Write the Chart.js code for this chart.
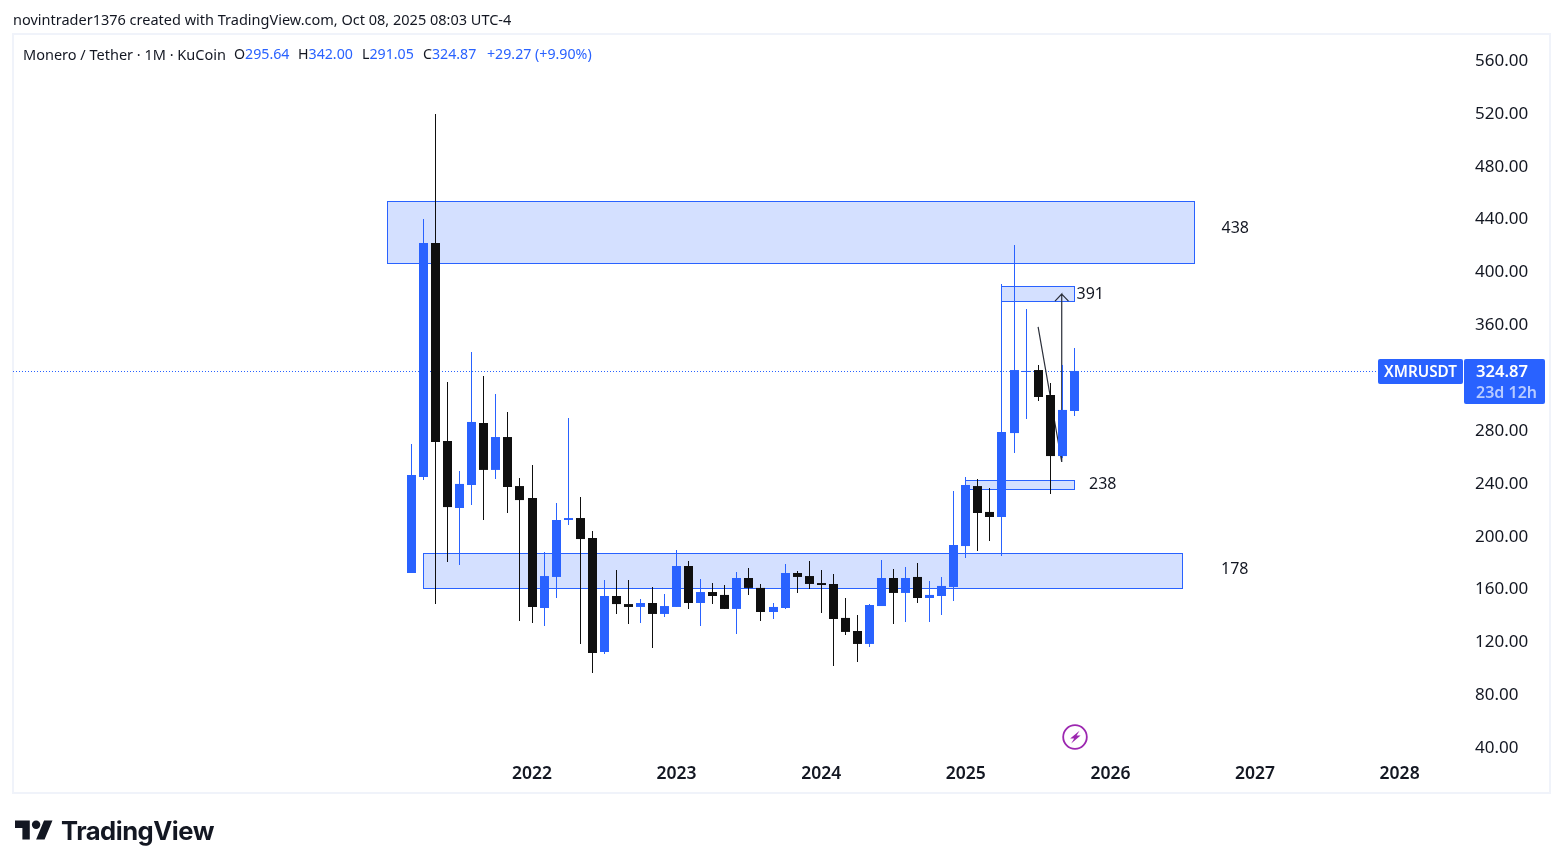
<!DOCTYPE html>
<html>
<head>
<meta charset="utf-8">
<title>XMRUSDT</title>
<script src="https://cdn.jsdelivr.net/npm/chart.js@4"></script>
<style>
  html, body { margin: 0; padding: 0; background: #fff; }
  body { width: 1563px; height: 868px; position: relative; overflow: hidden; font-family: "Noto Sans", sans-serif; color: #131722; }
  canvas { position: absolute; left: 0; top: 0; }
  .frame { position: absolute; left: 12px; top: 33px; width: 1535px; height: 757px; border: 2px solid #f0f3fa; }
  .txt { position: absolute; font-size: 14.5px; line-height: 20px; white-space: nowrap; }
  .val { font-size: 14.2px; }
  .blue { color: #2962ff; }
  .brand { position: absolute; left: 61px; top: 812px; font-size: 25.6px; line-height: 38px; font-weight: 700; letter-spacing: -0.5px; font-family: Inter, sans-serif; }
</style>
</head>
<body>
<div class="frame"></div>
<canvas id="chart" width="1563" height="868"></canvas>

<div class="txt" style="left:13px;top:9px">novintrader1376 created with TradingView.com, Oct 08, 2025 08:03 UTC-4</div>
<div class="txt" style="left:23px;top:44px">Monero / Tether · 1M · KuCoin</div>
<div class="txt val" style="left:234px;top:44px">O<span class="blue">295.64</span></div>
<div class="txt val" style="left:298px;top:44px">H<span class="blue">342.00</span></div>
<div class="txt val" style="left:362px;top:44px">L<span class="blue">291.05</span></div>
<div class="txt val" style="left:423px;top:44px">C<span class="blue">324.87</span></div>
<div class="txt val blue" style="left:487px;top:44px">+29.27 (+9.90%)</div>

<svg style="position:absolute;left:15px;top:820px" width="38" height="20" viewBox="0 4 36 18">
  <path fill="#131722" d="M14 22H7V11H0V4h14v18zM28 22h-8l7.5-18h8L28 22z"/>
  <circle fill="#131722" cx="20" cy="8" r="4"/>
</svg>
<div class="brand">TradingView</div>

<svg style="position:absolute;left:1061.5px;top:723.5px" width="26" height="26" viewBox="0 0 26 26">
  <circle cx="13" cy="13" r="11.8" fill="#fff" stroke="#9c27b0" stroke-width="1.8"/>
  <path fill="#9c27b0" d="M17.5 6.8L8.2 14.6h4l-3 4.8 9.4-7.8h-4z"/>
</svg>

<script>
// monthly candles, first one is Mar 2021 (index 10 = Jan 2022)
const opens = [171.4, 244.1, 421.1, 271.3, 220.6, 238.0, 284.9, 249.4, 274.3, 237.2, 228.2, 144.9, 168.4, 211.5, 213.0, 197.9, 111.6, 154.0, 147.9, 145.7, 148.7, 140.4, 145.7, 176.7, 148.7, 157.0, 154.8, 144.2, 167.6, 160.1, 141.9, 144.9, 171.4, 169.1, 163.8, 163.1, 137.4, 127.5, 117.7, 146.4, 167.6, 156.3, 168.4, 152.5, 154.0, 160.8, 191.8, 237.2, 217.6, 213.8, 277.3, 323.5, 325.0, 306.1, 259.9, 294.0];
const highs = [269.0, 439.3, 518.7, 315.9, 248.6, 338.6, 320.5, 306.9, 293.2, 243.3, 253.1, 187.3, 224.4, 288.7, 228.9, 203.2, 166.1, 173.7, 166.1, 151.7, 160.8, 155.5, 188.8, 180.5, 166.9, 163.8, 162.3, 172.2, 175.2, 163.1, 148.7, 178.2, 172.9, 180.5, 173.7, 170.7, 152.5, 139.6, 147.9, 181.2, 174.4, 176.0, 179.0, 165.4, 168.4, 233.5, 244.1, 242.5, 235.7, 390.1, 419.6, 371.2, 328.8, 315.2, 328.8, 341.7];
const lows = [171.4, 241.8, 147.9, 179.7, 177.5, 222.9, 211.5, 242.5, 216.8, 135.1, 133.6, 131.3, 152.5, 207.7, 117.7, 95.7, 110.1, 140.4, 132.8, 133.6, 114.7, 138.1, 145.7, 144.2, 131.3, 147.9, 144.2, 125.3, 154.8, 135.1, 136.6, 144.2, 156.3, 159.3, 141.1, 101.0, 124.5, 104.1, 115.4, 146.4, 132.8, 134.3, 148.7, 134.3, 139.6, 150.2, 182.8, 188.1, 195.6, 184.3, 262.2, 287.9, 301.6, 231.2, 258.4, 290.2];
const closes = [245.6, 421.1, 270.5, 221.3, 238.8, 285.7, 249.4, 274.3, 236.5, 226.6, 145.7, 169.1, 211.5, 213.0, 197.1, 110.9, 154.0, 147.9, 145.7, 148.7, 140.4, 146.4, 176.7, 148.7, 157.0, 154.0, 144.2, 167.6, 160.1, 141.9, 145.7, 171.4, 168.4, 163.1, 162.3, 136.6, 126.8, 117.7, 147.2, 167.6, 156.3, 167.6, 152.5, 154.8, 161.6, 192.6, 238.0, 216.8, 213.8, 278.1, 325.0, 324.3, 304.6, 259.9, 294.8, 324.3];

const priceTicks = [40, 80, 120, 160, 200, 240, 280, 320, 360, 400, 440, 480, 520, 560];
const yearLabels = ['2022', '2023', '2024', '2025', '2026', '2027', '2028'];
const yearIndexes = [10, 22, 34, 46, 58, 70, 82];

// drawn zones, in candle index / price
const zoneStart = [-2, 1, 49, 46];
const zoneEnd = [65, 64, 55, 55];
const zoneTop = [452.3, 186.1, 388.2, 241.4];
const zoneBottom = [405.4, 159.6, 376.8, 234.5];
const zoneNames = ['438', '178', '391', '238'];

// hand drawn path with arrow head at the end
const pathX = [52, 53.96, 53.96, 53.4, 53.96, 54.52];
const pathY = [357.6, 255.4, 382.5, 377.2, 382.5, 377.2];

const lastPrice = 324.87;
const lastSymbol = 'XMRUSDT';
const lastCountdown = '23d 12h';

const BLUE = '#2962ff';
const BLACK = '#0f0f0f';
const candleColors = closes.map((c, i) => (c >= opens[i] ? BLUE : BLACK));

const candles = opens.map((o, i) => ({ x: i, y: [o, closes[i]] }));
const wicks = opens.map((o, i) => ({ x: i, y: [lows[i], highs[i]] }));
const drawnPath = pathX.map((x, i) => ({ x, y: pathY[i] }));

// pixel offset of each zone caption from the zone's right edge and middle
const captionOffset = [[40.5, -4.3], [52, -1.6], [16, 0.5], [28.5, -0.5]];

const snapBars = {
  id: 'snapBars',
  afterDatasetsUpdate(chart) {
    chart.data.datasets.forEach((ds, d) => {
      if (ds.type !== 'bar') return;
      chart.getDatasetMeta(d).data.forEach((el) => {
        el.x = Math.floor(el.x) + 0.5;
      });
    });
  },
};

const zones = {
  id: 'zones',
  beforeDatasetsDraw(chart) {
    const { ctx, scales: { x, y } } = chart;
    ctx.save();
    // last price dotted line
    const ly = Math.ceil(y.getPixelForValue(lastPrice)) + 0.5;
    ctx.strokeStyle = BLUE;
    ctx.lineWidth = 1;
    ctx.setLineDash([1, 2]);
    ctx.beginPath();
    ctx.moveTo(x.left, ly);
    ctx.lineTo(1378, ly);
    ctx.stroke();
    ctx.setLineDash([]);
    zoneNames.forEach((name, i) => {
      const left = Math.floor(x.getPixelForValue(zoneStart[i])) + 0.5;
      const right = Math.floor(x.getPixelForValue(zoneEnd[i])) + 0.5;
      const top = Math.floor(y.getPixelForValue(zoneTop[i])) + 0.5;
      const bottom = Math.floor(y.getPixelForValue(zoneBottom[i])) + 0.5;
      ctx.fillStyle = 'rgba(41, 98, 255, 0.2)';
      ctx.fillRect(left, top, right - left, bottom - top);
      ctx.strokeStyle = BLUE;
      ctx.strokeRect(left, top, right - left, bottom - top);
    });
    ctx.restore();
  },
  afterDatasetsDraw(chart) {
    const { ctx, scales: { x, y } } = chart;
    ctx.save();
    ctx.font = '16px "Noto Sans"';
    ctx.fillStyle = '#131722';
    ctx.textAlign = 'center';
    ctx.textBaseline = 'middle';
    zoneNames.forEach((name, i) => {
      const right = x.getPixelForValue(zoneEnd[i]);
      const mid = y.getPixelForValue((zoneTop[i] + zoneBottom[i]) / 2);
      ctx.fillText(name, right + captionOffset[i][0], mid + captionOffset[i][1]);
    });

    // last price badges on the axis
    const ly = Math.ceil(y.getPixelForValue(lastPrice));
    ctx.fillStyle = BLUE;
    ctx.beginPath();
    ctx.roundRect(1378, ly - 12, 85, 25, 2);
    ctx.fill();
    ctx.beginPath();
    ctx.roundRect(1464, ly - 12, 81, 45, 2);
    ctx.fill();
    ctx.fillStyle = '#fff';
    ctx.font = '600 15.3px "Noto Sans"';
    ctx.fillText(lastSymbol, 1420.5, ly + 1.5);
    ctx.textAlign = 'left';
    ctx.font = '600 16.6px "Noto Sans"';
    ctx.fillText(lastPrice.toFixed(2), 1476, ly + 1.5);
    ctx.fillStyle = '#b8cbff';
    ctx.font = '600 16px "Noto Sans"';
    ctx.fillText(lastCountdown, 1476, ly + 22);
    ctx.restore();
  },
};

new Chart(document.getElementById('chart'), {
  data: {
    datasets: [
      { type: 'line', data: drawnPath, borderColor: '#2a2e39', borderWidth: 1.2, pointRadius: 0, tension: 0, order: 3 },
      { type: 'bar', data: wicks, backgroundColor: candleColors, barThickness: 1, inflateAmount: 0, grouped: false, order: 2 },
      { type: 'bar', data: candles, backgroundColor: candleColors, barThickness: 9, inflateAmount: 0, grouped: false, order: 1 },
    ],
  },
  options: {
    responsive: false,
    animation: false,
    layout: { padding: { left: 13, top: 34, right: 13, bottom: 75 } },
    plugins: { legend: { display: false }, tooltip: { enabled: false } },
    scales: {
      x: {
        type: 'linear',
        offset: false,
        min: -33.07,
        max: 87.26,
        border: { display: false },
        grid: { display: false },
        afterFit(scale) { scale.height = 35; },
        afterBuildTicks(scale) { scale.ticks = yearIndexes.map((value) => ({ value })); },
        ticks: {
          autoSkip: false,
          maxRotation: 0,
          padding: -2,
          color: '#131722',
          font: { family: '"Noto Sans"', size: 17.5, weight: '600' },
          callback: (value) => yearLabels[yearIndexes.indexOf(value)],
        },
      },
      y: {
        type: 'linear',
        position: 'right',
        min: 31.4,
        max: 579.3,
        border: { display: false },
        grid: { display: false, drawTicks: false },
        afterFit(scale) { scale.width = 87; },
        afterBuildTicks(scale) { scale.ticks = priceTicks.map((value) => ({ value })); },
        ticks: {
          autoSkip: false,
          padding: 12,
          labelOffset: 1.5,
          crossAlign: 'near',
          color: '#131722',
          font: { family: '"Noto Sans"', size: 17 },
          callback: (value) => value.toFixed(2),
        },
      },
    },
  },
  plugins: [snapBars, zones],
});
</script>
</body>
</html>
